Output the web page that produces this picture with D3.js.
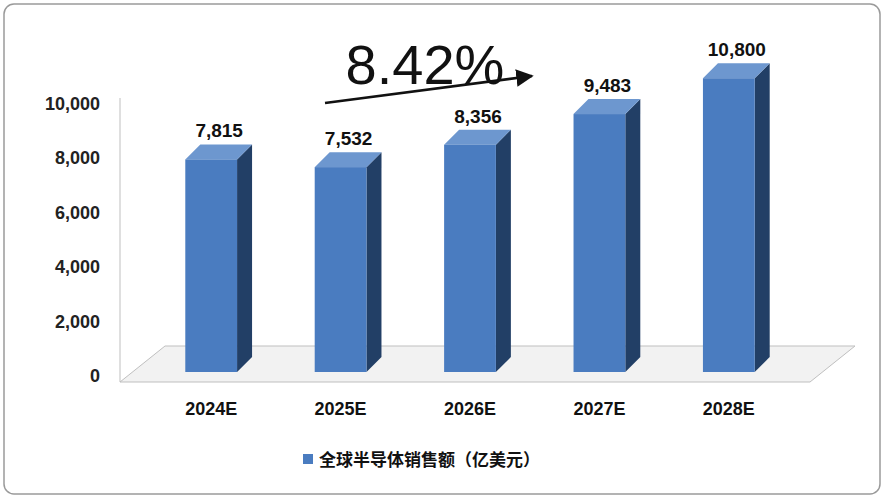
<!DOCTYPE html>
<html><head><meta charset="utf-8">
<script src="https://cdn.jsdelivr.net/npm/d3@7"></script>
<style>body{margin:0;background:#fff}</style></head>
<body><svg id="c" width="884" height="500"></svg>
<script>
const years = ["2024E", "2025E", "2026E", "2027E", "2028E"];
const sales = [7815, 7532, 8356, 9483, 10800];
const yTicks = [0, 2000, 4000, 6000, 8000, 10000];
const seriesName = "全球半导体销售额（亿美元）";
const growth = "8.42%";

const svg = d3.select("#c");
const font = "'Liberation Sans', Arial, sans-serif";
const dx = 15, dy = -15;

svg.append("rect").attr("x", 4).attr("y", 4).attr("width", 876).attr("height", 490)
  .attr("rx", 10).attr("fill", "#fff").attr("stroke", "#9a9a9a").attr("stroke-width", 1.5);

const y = d3.scaleLinear().domain([0, 10000]).range([372, 100]);
const x = d3.scaleBand().domain(years).range([140, 800]).paddingInner(0.6).paddingOuter(0.35);

// floor
const fl = 120, fr = 810, fy = 382;
svg.append("path")
  .attr("d", `M${fl},${fy}L${fr},${fy}L${fr + 45},${fy - 36}L${fl + 45},${fy - 36}Z`)
  .attr("fill", "#f2f2f2").attr("stroke", "#bfbfbf");
svg.append("line").attr("x1", 120).attr("x2", 120).attr("y1", 98).attr("y2", fy).attr("stroke", "#bfbfbf");

// y axis labels
svg.selectAll(".yt").data(yTicks).enter().append("text")
  .attr("x", 100).attr("y", d => y(d) + 10).attr("text-anchor", "end")
  .attr("font-family", font).attr("font-weight", "bold").attr("font-size", 18).attr("fill", "#222")
  .text(d => d3.format(",")(d));

// bars
const g = svg.selectAll(".bar").data(years).enter().append("g");
g.append("path").attr("fill", "#223f66")
  .attr("d", (d, i) => { const x1 = x(d) + x.bandwidth(), t = y(sales[i]), b = y(0);
    return `M${x1},${t}L${x1 + dx},${t + dy}L${x1 + dx},${b + dy}L${x1},${b}Z`; });
g.append("path").attr("fill", "#6d97cf")
  .attr("d", (d, i) => { const x0 = x(d), x1 = x0 + x.bandwidth(), t = y(sales[i]);
    return `M${x0},${t}L${x0 + dx},${t + dy}L${x1 + dx},${t + dy}L${x1},${t}Z`; });
g.append("rect").attr("fill", "#4a7cc0")
  .attr("x", d => x(d)).attr("width", x.bandwidth())
  .attr("y", (d, i) => y(sales[i])).attr("height", (d, i) => y(0) - y(sales[i]));
g.append("text").attr("x", d => x(d) + x.bandwidth() / 2 + 8).attr("y", (d, i) => y(sales[i]) - 22)
  .attr("text-anchor", "middle").attr("font-family", font).attr("font-weight", "bold")
  .attr("font-size", 19).attr("fill", "#111").text((d, i) => d3.format(",")(sales[i]));

// x labels
svg.selectAll(".xt").data(years).enter().append("text")
  .attr("x", d => x(d) + x.bandwidth() / 2).attr("y", 415).attr("text-anchor", "middle")
  .attr("font-family", font).attr("font-weight", "bold").attr("font-size", 18).attr("fill", "#111")
  .text(d => d);

// growth arrow
svg.append("defs").append("marker").attr("id", "ah").attr("viewBox", "0 0 10 10")
  .attr("refX", 9).attr("refY", 5).attr("markerWidth", 7).attr("markerHeight", 7).attr("orient", "auto")
  .append("path").attr("d", "M0,0L10,5L0,10Z").attr("fill", "#111");
svg.append("line").attr("x1", 325).attr("y1", 103).attr("x2", 532).attr("y2", 76)
  .attr("stroke", "#111").attr("stroke-width", 2.5).attr("marker-end", "url(#ah)");
svg.append("text").attr("x", 425).attr("y", 84).attr("text-anchor", "middle")
  .attr("font-family", font).attr("font-size", 56).attr("fill", "#111").text(growth);

// legend
svg.append("rect").attr("x", 303).attr("y", 454).attr("width", 10).attr("height", 10).attr("fill", "#4a7cc0");
svg.append("text").attr("x", 319).attr("y", 466).attr("font-family", "'Noto Sans CJK SC', sans-serif")
  .attr("font-weight", "bold").attr("font-size", 17).attr("fill", "#111").text(seriesName);
</script></body></html>
